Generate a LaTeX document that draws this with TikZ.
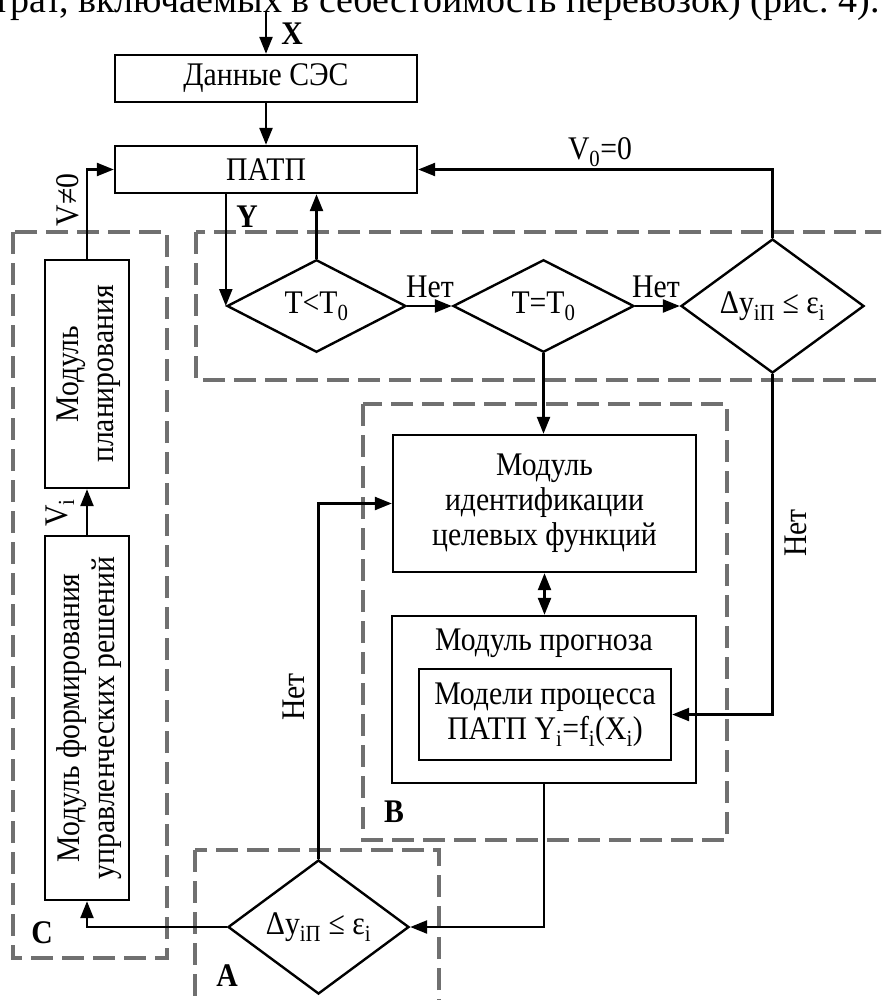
\documentclass[tikz,border=0pt]{standalone}
\usepackage{fontspec}
\setmainfont{Liberation Serif}[FakeStretch=0.9]
\newfontfamily\pagefont{Liberation Serif}
\usetikzlibrary{shapes.geometric,arrows.meta}
\newcommand\myfs{\fontsize{33}{35}\selectfont}
\tikzset{
  box/.style={draw, line width=2.4pt, inner sep=0pt, align=center, font=\myfs},
  dia/.style={draw, diamond, line width=2.4pt, inner sep=0pt, font=\myfs},
  grp/.style={draw={rgb,255:red,112;green,112;blue,112}, line width=4.5pt, dash pattern=on 22pt off 9pt},
  tip/.style={Triangle[length=17pt,width=13pt]},
  arr/.style={line width=2.4pt, -{Triangle[length=17pt,width=13pt]}},
  lbl/.style={font=\myfs, inner sep=0pt},
  blbl/.style={font=\myfs\bfseries, inner sep=0pt}
}
\begin{document}
\begin{tikzpicture}[x=1pt,y=-1pt]
\useasboundingbox (0,0) rectangle (881,1000);
\clip (0,0) rectangle (881,1000);
\fill[white] (0,0) rectangle (881,1000);

% clipped line of page text
\node[anchor=base east, font=\pagefont\fontsize{38}{40}\selectfont, inner sep=0pt] (cap) at (880,13) {затрат, включаемых в себестоимость перевозок) (рис.~4).};

% dashed group frames
\draw[grp] (196,232) rectangle (905,380);
\draw[grp] (363,404) rectangle (727,840);
\draw[grp] (195,850) rectangle (439,1015);
\draw[grp] (13,232) rectangle (167,958);

% blocks
\node[box, minimum width=302, minimum height=47] (dan) at (266,78.5) {Данные СЭС};
\node[box, minimum width=302, minimum height=47] (patp) at (266,169.5) {ПАТП};
\node[dia, minimum width=179, minimum height=92] (d1) at (316.5,306) {T<T\textsubscript{0}};
\node[dia, minimum width=181, minimum height=92] (d2) at (543.5,306) {T=T\textsubscript{0}};
\node[dia, minimum width=183, minimum height=92] (d3) at (772.5,306) {Δy\textsubscript{iП} ≤ ε\textsubscript{i}};
\node[box, minimum width=303, minimum height=137] (ident) at (544.5,503.5) {Модуль\\идентификации\\целевых функций};
\node[box, minimum width=304, minimum height=167] (prog) at (544,699.5) {};
\node[lbl] (progt) at (544,643) {Модуль прогноза};
\node[box, minimum width=252, minimum height=91] (models) at (545,714.5) {Модели процесса\\ПАТП Y\textsubscript{i}=f\textsubscript{i}(X\textsubscript{i})};
\node[dia, minimum width=181, minimum height=90] (dA) at (318.5,927) {Δy\textsubscript{iП} ≤ ε\textsubscript{i}};
\node[box, minimum width=84, minimum height=228] (plan) at (87,374) {};
\node[lbl, rotate=90, align=center] (plant) at (89,374) {Модуль\\планирования};
\node[box, minimum width=84, minimum height=364] (form) at (87,718) {};
\node[lbl, rotate=90, align=center] (formt) at (89,718) {Модуль формирования\\управленческих решений};

% connectors
\coordinate (xin) at (266,12);
\draw[arr] (xin) -- (dan.north);
\draw[arr] (dan.south) -- (patp.north);
\draw[arr] (d1.west |- patp.south) -- (d1.west);
\draw[arr] (d1.north) -- (d1.north |- patp.south);
\draw[arr] (d1.east) -- (d2.west);
\draw[arr] (d2.east) -- (d3.west);
\draw[arr] (d3.north) -- (d3.north |- patp.east) -- (patp.east);
\draw[arr] (d2.south) -- (d2.south |- ident.north);
\draw[line width=2.4pt, {Triangle[length=17pt,width=13pt]}-{Triangle[length=17pt,width=13pt]}] (ident.south) -- (ident.south |- prog.north);
\draw[arr] (d3.south) -- (d3.south |- models.east) -- (models.east);
\draw[arr] (prog.south) -- (prog.south |- dA.east) -- (dA.east);
\draw[arr] (dA.north) -- (dA.north |- ident.west) -- (ident.west);
\draw[arr] (dA.west) -- (form.south |- dA.west) -- (form.south);
\draw[arr] (form.north) -- (plan.south);
\draw[arr] (plan.north) -- (plan.north |- patp.west) -- (patp.west);

% labels
\node[blbl] (lx) at (292,34) {X};
\node[blbl] (ly) at (247,217) {Y};
\node[lbl] (lv0) at (600,152) {V\textsubscript{0}=0};
\node[lbl] (ln1) at (430,287) {Нет};
\node[lbl] (ln2) at (656,287) {Нет};
\node[lbl, rotate=90] (ln3) at (796,533) {Нет};
\node[lbl, rotate=90] (ln4) at (294,697) {Нет};
\node[lbl, rotate=90] (lvn) at (68,200) {V≠0};
\node[lbl, rotate=90] (lvi) at (60,513) {V\textsubscript{i}};
\node[blbl] (la) at (227,976) {A};
\node[blbl] (lb) at (394,812) {B};
\node[blbl] (lc) at (42,933) {C};
\end{tikzpicture}
\end{document}
